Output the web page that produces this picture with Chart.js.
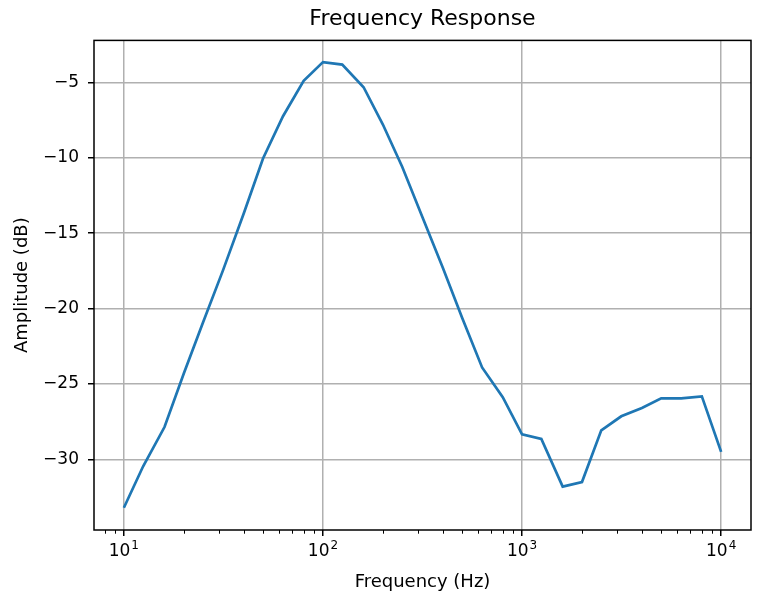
<!DOCTYPE html>
<html>
<head>
<meta charset="utf-8">
<script src="https://cdn.jsdelivr.net/npm/chart.js@4"></script>
<style>
  body { margin: 0; background: #fff; }
  canvas { display: block; }
</style>
</head>
<body>
<canvas id="chart" width="771" height="601"></canvas>
<script>
// third-octave centre frequencies (Hz)
const freqs = [10, 12.5, 16, 20, 25, 31.5, 40, 50, 63, 80, 100, 125, 160, 200, 250, 315,
  400, 500, 630, 800, 1000, 1250, 1600, 2000, 2500, 3150, 4000, 5000, 6300, 8000, 10000];
// amplitude (dB)
const amps = [-33.2, -30.45, -27.85, -24.3, -20.9, -17.45, -13.7, -10.05, -7.25, -4.9, -3.66, -3.83, -5.33, -7.8, -10.6, -13.9,
  -17.3, -20.6, -23.9, -25.87, -28.33, -28.64, -31.8, -31.5, -28.07, -27.14, -26.59, -25.95, -25.95, -25.82, -29.5];
const xMajor = [10, 100, 1000, 10000];
const xExp = ["1", "2", "3", "4"];
const yTicks = [-30, -25, -20, -15, -10, -5];

const FONT = "'DejaVu Sans', sans-serif";

// matplotlib look: full box, minor log ticks, 10^n labels
const frame = {
  id: "frame",
  afterDraw(chart) {
    const {ctx, chartArea: a, scales: {x}} = chart;
    ctx.save();
    ctx.strokeStyle = "#000";
    ctx.lineWidth = 1.5;
    ctx.strokeRect(a.left, a.top, a.right - a.left, a.bottom - a.top);

    ctx.lineWidth = 1;
    ctx.beginPath();
    for (let n = 0; n <= 4; n++) {
      for (let m = 2; m <= 9; m++) {
        const v = m * Math.pow(10, n);
        if (v < x.min || v > x.max) continue;
        const px = Math.round(x.getPixelForValue(v)) + 0.5;
        ctx.moveTo(px, a.bottom);
        ctx.lineTo(px, a.bottom + 3.7);
      }
    }
    ctx.stroke();

    ctx.fillStyle = "#000";
    ctx.textBaseline = "alphabetic";
    ctx.textAlign = "left";
    xMajor.forEach((v, i) => {
      const px = x.getPixelForValue(v);
      ctx.font = "17px " + FONT;
      const wBase = ctx.measureText("10").width;
      ctx.font = "12px " + FONT;
      const wExp = ctx.measureText(xExp[i]).width;
      const left = px - (wBase + 1 + wExp) / 2;
      ctx.font = "17px " + FONT;
      ctx.fillText("10", left, 556);
      ctx.font = "12px " + FONT;
      ctx.fillText(xExp[i], left + wBase + 1, 549);
    });
    ctx.restore();
  }
};

new Chart(document.getElementById("chart"), {
  type: "scatter",
  data: {
    datasets: [{
      data: freqs.map((f, i) => ({x: f, y: amps[i]})),
      showLine: true,
      borderColor: "#1f77b4",
      borderWidth: 2.7,
      pointRadius: 0,
      tension: 0
    }]
  },
  options: {
    responsive: false,
    animation: false,
    layout: {padding: {left: 0, right: 20, top: 0, bottom: 0}},
    plugins: {
      legend: {display: false},
      tooltip: {enabled: false},
      title: {
        display: true,
        fullSize: false,
        text: "Frequency Response",
        color: "#000",
        font: {family: FONT, size: 22, weight: "normal"},
        padding: {top: 6, bottom: 8}
      }
    },
    scales: {
      x: {
        type: "logarithmic",
        min: Math.pow(10, 0.85),
        max: Math.pow(10, 4.15),
        afterBuildTicks: s => { s.ticks = xMajor.map(v => ({value: v})); },
        afterFit: s => { s.height = 71; },
        ticks: {display: false},
        grid: {color: "#b0b0b0", lineWidth: 1.5, tickColor: "#000", tickWidth: 1.5, tickLength: 6},
        border: {display: false},
        title: {
          display: true,
          text: "Frequency (Hz)",
          color: "#000",
          font: {family: FONT, size: 18},
          padding: {top: 0, bottom: 8}
        }
      },
      y: {
        min: -34.675,
        max: -2.225,
        afterBuildTicks: s => { s.ticks = yTicks.map(v => ({value: v})); },
        afterFit: s => { s.width = 94; },
        ticks: {
          color: "#000",
          font: {family: FONT, size: 17},
          padding: 9,
          callback: v => String(v).replace("-", "\u2212")
        },
        grid: {color: "#b0b0b0", lineWidth: 1.5, tickColor: "#000", tickWidth: 1.5, tickLength: 6},
        border: {display: false},
        title: {
          display: true,
          text: "Amplitude (dB)",
          color: "#000",
          font: {family: FONT, size: 18},
          padding: {top: 12, bottom: 0}
        }
      }
    }
  },
  plugins: [frame]
});
</script>
</body>
</html>
